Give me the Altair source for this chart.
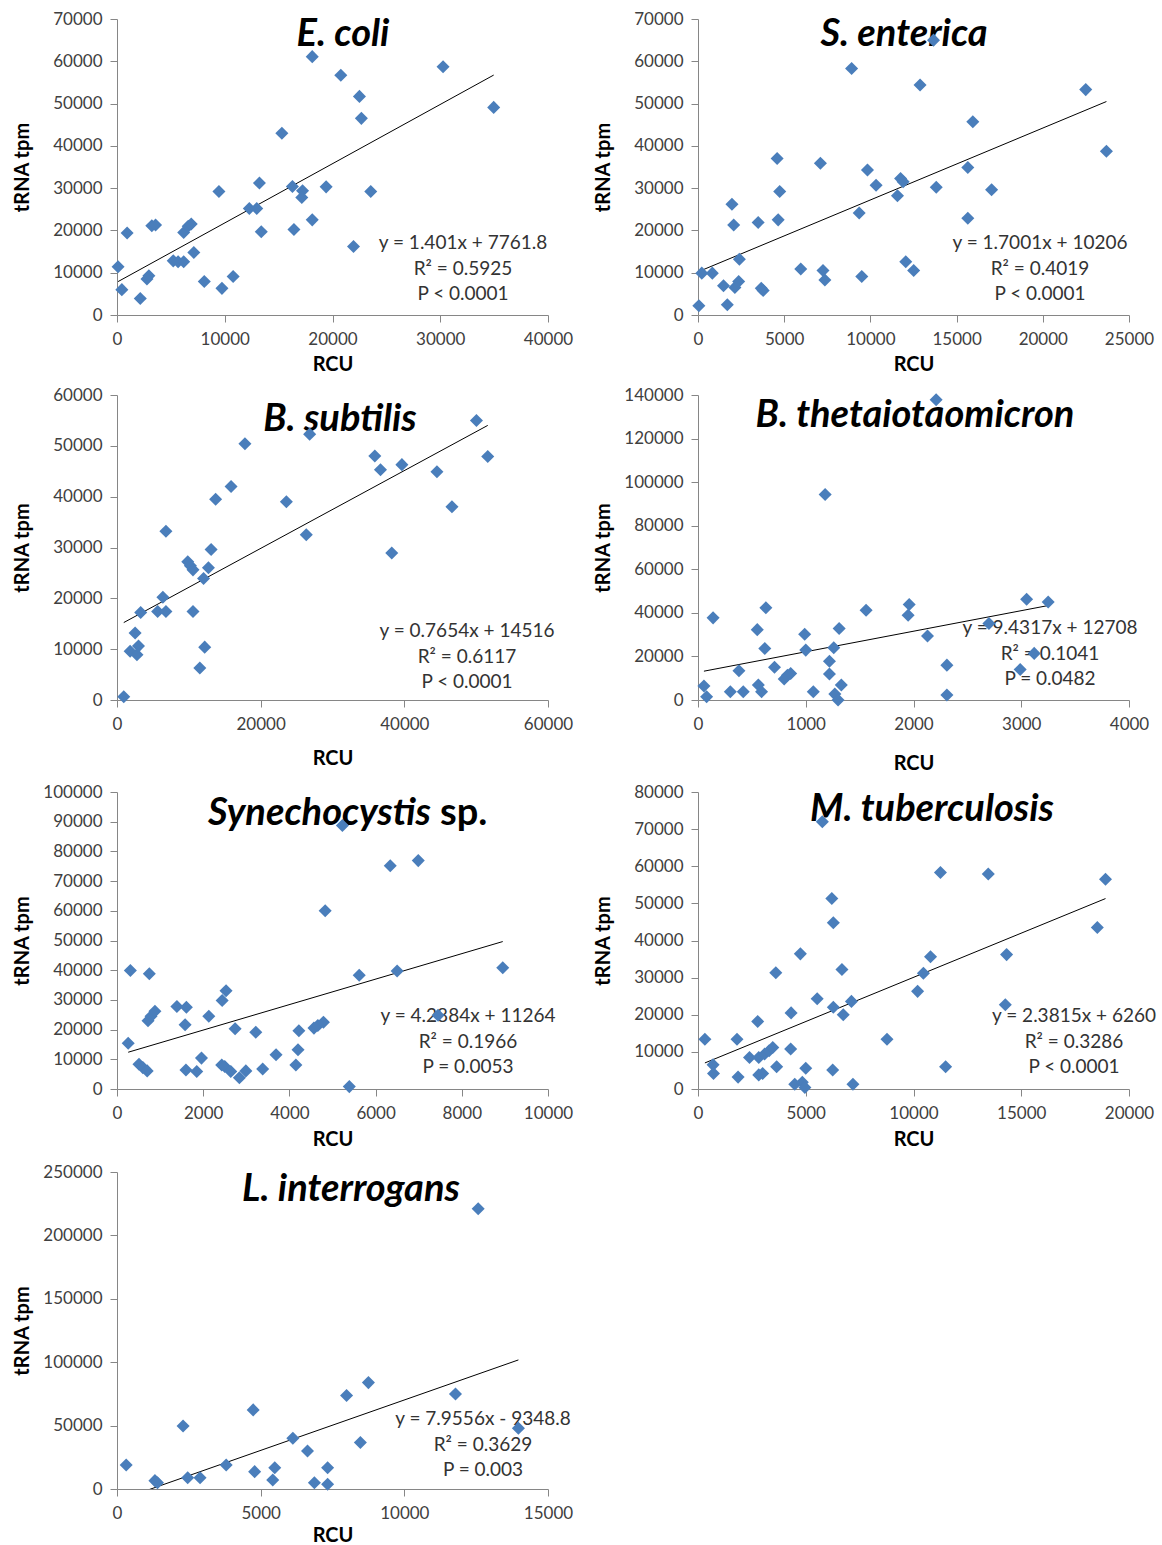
import altair as alt
import pandas as pd

# ---------------- data ----------------
ecoli_rcu = [100, 450, 940, 2160, 2780, 2960, 3230, 3580, 5220, 5670, 6190, 6190, 6610, 6890, 7130, 8100,
             9460, 9740, 10780, 12280, 12970, 13220, 13390, 15300, 16420, 16280, 17220, 17150, 18120, 18120,
             19410, 20770, 21950, 22500, 22680, 23550, 30260, 34960]
ecoli_trna = [11400, 6000, 19400, 3900, 8500, 9300, 21100, 21300, 12800, 12600, 12600, 19500, 21000, 21500, 14800, 7900,
              29200, 6300, 9100, 25200, 25200, 31200, 19700, 43000, 20200, 30400, 29400, 27800, 22500, 61100,
              30300, 56700, 16200, 51700, 46500, 29200, 58700, 49100]

se_rcu = [50, 220, 830, 1480, 1700, 1970, 2070, 2140, 2360, 2400, 3490, 3670, 3780, 4590, 4650, 4740, 5960, 7100,
          7250, 7360, 8910, 9350, 9500, 9830, 10330, 11570, 11750, 11900, 12050, 12510, 12880, 13820, 13660,
          15650, 15650, 15940, 17030, 22490, 23690]
se_trna = [2200, 9900, 9900, 6900, 2400, 26200, 21300, 6500, 7900, 13200, 21900, 6300, 5800, 37000, 22500, 29200,
           10900, 35900, 10500, 8300, 58300, 24100, 9100, 34300, 30700, 28200, 32300, 31500, 12600, 10500, 54400,
           30200, 65000, 34900, 22900, 45700, 29600, 53300, 38700]

bs_rcu = [940, 1830, 2520, 3300, 2780, 2990, 5660, 6390, 6810, 6810, 9850, 10220, 10580, 10580, 11530, 12050,
          12210, 12730, 13100, 13730, 15880, 17810, 23580, 26350, 26820, 35890, 36680, 39660, 38250, 44540,
          46630, 50040, 51610]
bs_trna = [660, 9600, 13200, 17200, 8900, 10600, 17400, 20200, 17400, 33200, 27200, 26400, 25600, 17400, 6300,
           23900, 10400, 26000, 29600, 39500, 42000, 50400, 39000, 32500, 52300, 48000, 45300, 46300, 28900,
           44900, 38000, 55000, 47900]

bt_rcu = [55, 80, 140, 300, 380, 420, 550, 560, 590, 630, 620, 710, 800, 830, 860, 990, 1000, 1070, 1180, 1220,
          1220, 1260, 1270, 1300, 1310, 1330, 1560, 1960, 1950, 2130, 2210, 2310, 2310, 2700, 2990, 3050, 3120, 3250]
bt_trna = [6400, 1500, 37700, 3800, 13400, 3800, 32300, 6900, 3800, 42300, 23600, 15000, 9600, 11400, 12200,
           30200, 22900, 3800, 94300, 17800, 11900, 24000, 2700, 0, 32800, 6900, 41200, 43800, 38900, 29400,
           137800, 16000, 2300, 35100, 14000, 46200, 21400, 45000]

sy_rcu = [260, 310, 510, 600, 700, 720, 750, 790, 880, 1390, 1610, 1580, 1600, 1850, 1960, 2130, 2430, 2440,
          2530, 2500, 2640, 2740, 2840, 2990, 3220, 3380, 3690, 4150, 4200, 4220, 4570, 4660, 4790, 4830, 5230,
          5390, 5620, 6340, 6500, 6990, 7450, 8950]
sy_trna = [15400, 39900, 8300, 7200, 6100, 23000, 38800, 24500, 26200, 27800, 27500, 21600, 6400, 5900, 10400,
           24500, 8100, 29800, 33100, 7600, 5900, 20300, 3800, 6100, 19100, 6700, 11500, 8100, 13200, 19600,
           20500, 21400, 22500, 60000, 88700, 800, 38300, 75200, 39700, 76900, 24800, 40800]

mt_rcu = [320, 700, 720, 1810, 1860, 2390, 2770, 2820, 2820, 3000, 3090, 3300, 3470, 3610, 3650, 4300, 4320,
          4490, 4750, 4840, 4960, 5000, 5530, 5770, 6210, 6280, 6280, 6250, 6680, 6740, 7120, 7190, 8770, 10190,
          10460, 10790, 11250, 11490, 13470, 14320, 14260, 18530, 18910]
mt_trna = [13400, 6500, 4200, 13400, 3200, 8500, 18200, 8500, 3800, 4200, 9400, 10300, 11200, 31300, 6000,
           10800, 20500, 1300, 36400, 1800, 400, 5600, 24300, 72000, 51300, 44800, 22000, 5100, 32200, 20000,
           23600, 1300, 13400, 26300, 31200, 35600, 58300, 6000, 57900, 36200, 22700, 43500, 56500]

li_rcu = [320, 1320, 1410, 2300, 2460, 2890, 3800, 4740, 4790, 5420, 5490, 6120, 6630, 6870, 7330, 7330, 7990,
          8470, 8750, 11780, 12570, 13970]
li_trna = [18900, 6600, 5000, 49700, 8900, 8900, 18900, 62400, 13700, 7100, 16800, 40000, 30000, 5000, 3700,
           16800, 73700, 36600, 83900, 75000, 221000, 47900]

# regression equations shown in the figure (slope, intercept) and their labels
slopes = [1.401, 1.7001, 0.7654, 9.4317, 4.2884, 2.3815, 7.9556]
intercepts = [7761.8, 10206, 14516, 12708, 11264, 6260, -9348.8]
eq_labels = [
    "y = 1.401x + 7761.8\nR² = 0.5925\nP < 0.0001",
    "y = 1.7001x + 10206\nR² = 0.4019\nP < 0.0001",
    "y = 0.7654x + 14516\nR² = 0.6117\nP < 0.0001",
    "y = 9.4317x + 12708\nR² = 0.1041\nP = 0.0482",
    "y = 4.2884x + 11264\nR² = 0.1966\nP = 0.0053",
    "y = 2.3815x + 6260\nR² = 0.3286\nP < 0.0001",
    "y = 7.9556x - 9348.8\nR² = 0.3629\nP = 0.003",
]
titles = ["E. coli", "S. enterica", "B. subtilis", "B. thetaiotaomicron", "Synechocystis", "M. tuberculosis",
          "L. interrogans"]
title_suffix = "sp."

BLUE = "#4A7EBB"
FONT = "Lato"
W = 431
ROW_GAP = 70
TITLE_SIZE = 38


def panel(xs, ys, xmax, xstep, ymax, ystep, k, plot_h, extra, title_xy, eq_xy, xtitle_y):
    """extra = blank space above the plot area inside the view (to place rows exactly)."""
    h = plot_h + extra
    df = pd.DataFrame({"RCU": xs, "tRNA": ys})
    xsc = alt.Scale(domain=[0, xmax], nice=False)
    ysc = alt.Scale(domain=[0, ymax], nice=False, range=[h, extra])
    xax = alt.Axis(values=list(range(0, xmax + 1, xstep)), format="d", title="RCU", labelFlush=False,
                   labelOverlap=False, tickSize=7, labelPadding=9, titleY=xtitle_y, titleBaseline="middle")
    yax = alt.Axis(values=list(range(0, ymax + 1, ystep)), format="d", title="tRNA tpm", labelOverlap=False,
                   tickSize=7, labelPadding=8, titleAngle=270, titleX=-95, titleY=extra + plot_h / 2,
                   titleAlign="center", titleBaseline="middle")
    enc = dict(x=alt.X("RCU:Q", scale=xsc, axis=xax), y=alt.Y("tRNA:Q", scale=ysc, axis=yax))

    x0, x1 = min(xs), max(xs)
    tdf = pd.DataFrame({"RCU": [x0, x1],
                        "tRNA": [slopes[k] * x0 + intercepts[k], slopes[k] * x1 + intercepts[k]]})
    line = alt.Chart(tdf).mark_line(color="black", strokeWidth=1, clip=True).encode(**enc)
    pts = alt.Chart(df).mark_point(shape="diamond", filled=True, size=170, color=BLUE, opacity=1).encode(**enc)

    eq = alt.Chart(pd.DataFrame({"t": [eq_labels[k]]})).mark_text(
        font=FONT, fontSize=19, color="#333333", align="center", baseline="middle",
        lineBreak="\n", lineHeight=25.5).encode(
        text="t:N", x=alt.value(eq_xy[0]), y=alt.value(extra + eq_xy[1]))

    ty = extra + title_xy[1]
    if k == 4:
        t1 = alt.Chart(pd.DataFrame({"t": [titles[k]]})).mark_text(
            font=FONT, fontSize=TITLE_SIZE, fontWeight="bold", fontStyle="italic", color="black",
            align="right", baseline="middle").encode(text="t:N", x=alt.value(title_xy[0]), y=alt.value(ty))
        t2 = alt.Chart(pd.DataFrame({"t": [title_suffix]})).mark_text(
            font=FONT, fontSize=TITLE_SIZE, fontWeight="bold", color="black",
            align="left", baseline="middle").encode(text="t:N", x=alt.value(title_xy[0] + 9), y=alt.value(ty))
        layers = [t1, t2]
    else:
        t1 = alt.Chart(pd.DataFrame({"t": [titles[k]]})).mark_text(
            font=FONT, fontSize=TITLE_SIZE, fontWeight="bold", fontStyle="italic", color="black",
            align="center", baseline="middle").encode(text="t:N", x=alt.value(title_xy[0]), y=alt.value(ty))
        layers = [t1]

    return alt.layer(*layers, eq, line, pts).properties(width=W, height=h)


# plot-area tops in the reference: 17, 393, 790, 1170; bottoms: 313, 698, 1087, 1487
p1 = panel(ecoli_rcu, ecoli_trna, 40000, 10000, 70000, 10000, 0, 296, 0, (226, 16), (346, 224), 49)
p2 = panel(se_rcu, se_trna, 25000, 5000, 70000, 10000, 1, 296, 0, (206, 16), (342, 224), 49)
p3 = panel(bs_rcu, bs_trna, 60000, 20000, 60000, 10000, 2, 305, 10, (223, 25), (350, 236), 58)
p4 = panel(bt_rcu, bt_trna, 4000, 1000, 140000, 20000, 3, 305, 10, (217, 21), (352, 233), 63)
p5 = panel(sy_rcu, sy_trna, 10000, 2000, 100000, 10000, 4, 297, 22, (314, 22), (351, 224), 50)
p6 = panel(mt_rcu, mt_trna, 20000, 5000, 80000, 10000, 5, 297, 22, (234, 18), (376, 224), 50)
p7 = panel(li_rcu, li_trna, 15000, 5000, 250000, 50000, 6, 317, 13, (234, 18), (366, 247), 46)

chart = alt.concat(p1, p2, p3, p4, p5, p6, p7, columns=2, bounds="flush",
                   spacing={"row": ROW_GAP, "column": 150}).properties(
    padding={"left": 12, "top": 10, "right": 5, "bottom": 5}, background="white"
).resolve_scale(x="independent", y="independent").configure_view(stroke=None).configure_axis(
    grid=False, labelFont=FONT, labelFontSize=17, labelColor="#404040",
    titleFont=FONT, titleFontSize=20, titleFontWeight="bold", titleColor="black",
    domainColor="#868686", tickColor="#868686", domainWidth=1, tickWidth=1
)

chart.save("out.html", embed_options={"renderer": "svg", "actions": False})
